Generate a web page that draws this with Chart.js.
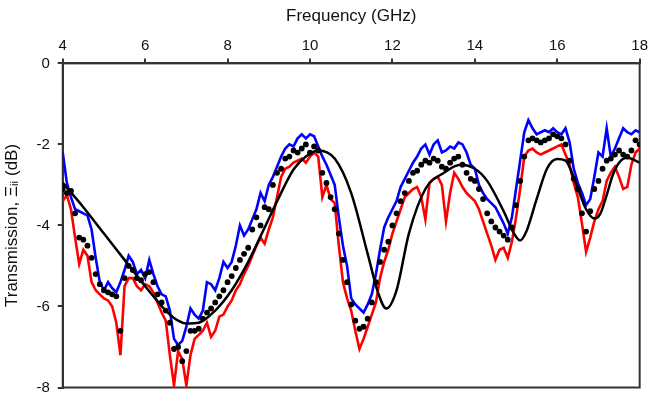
<!DOCTYPE html>
<html>
<head>
<meta charset="utf-8">
<script src="https://cdn.jsdelivr.net/npm/chart.js@4.4.1/dist/chart.umd.min.js"></script>
<style>
  html, body { margin: 0; padding: 0; background: #fff; }
  #wrap { width: 652px; height: 400px; }
</style>
</head>
<body>
<div id="wrap"><canvas id="chart"></canvas></div>
<script>
// measured traces, sampled every 0.1 GHz from 4 to 18 GHz
var fStart = 4, fStep = 0.1;

var blueT = [
  -2.2, -2.95, -3.3, -3.6, -3.65, -3.7, -3.75, -4.1, -4.8, -5.4,
  -5.6, -5.4, -5.55, -5.65, -5.4, -5.1, -4.75, -4.9, -5.2, -5.1,
  -5.3, -4.85, -5.2, -5.5, -5.7, -5.75, -6.1, -6.8, -6.95, -6.85,
  -6.5, -6.05, -6.2, -6.3, -6.1, -5.4, -5.45, -5.6, -5.3, -4.9,
  -5.05, -4.9, -4.5, -4.0, -4.25, -4.1, -3.85, -3.6, -3.2, -3.4,
  -3.0, -2.8, -2.55, -2.3, -2.1, -2.0, -2.05, -1.85, -1.75, -1.85,
  -1.75, -1.8, -2.05, -2.3, -2.5, -2.75, -3.0, -3.8, -4.5, -5.0,
  -5.8, -5.95, -6.05, -6.15, -5.95, -5.7, -5.2, -4.6, -4.05, -3.8,
  -3.6, -3.4, -3.05, -2.85, -2.65, -2.45, -2.3, -2.1, -2.0, -2.25,
  -2.0, -1.9, -2.2, -2.15, -2.05, -2.1, -1.95, -2.0, -2.2, -2.5,
  -2.6, -3.0, -3.2, -3.35, -3.45, -3.55, -3.75, -3.95, -4.2, -3.8,
  -3.1, -2.4, -1.7, -1.4, -1.6, -1.75, -1.7, -1.65, -1.7, -1.6,
  -1.7, -1.75, -1.6, -1.95, -2.6, -2.95, -3.2, -3.5, -3.35, -2.8,
  -2.2, -2.3, -1.6, -2.3, -2.1, -1.85, -1.6, -1.7, -1.75, -1.65,
  -1.7
];

var redT = [
  -3.4, -3.25, -3.6, -4.3, -4.95, -4.6, -4.75, -5.4, -5.6, -5.7,
  -5.8, -5.85, -6.0, -6.4, -7.2, -5.5, -5.3, -5.3, -5.5, -5.6,
  -5.45, -5.5, -5.65, -5.9, -6.15, -6.35, -7.2, -7.95, -7.1, -7.3,
  -7.95, -7.2, -6.8, -6.7, -6.6, -6.4, -6.75, -6.6, -6.25, -6.2,
  -6.0, -5.85, -5.6, -5.45, -5.2, -5.0, -4.75, -4.5, -4.3, -4.45,
  -4.1, -3.8, -3.3, -2.8, -2.6, -2.55, -2.45, -2.4, -2.35, -2.45,
  -2.3, -2.2, -2.3, -3.3, -3.0, -3.35, -3.45, -4.5, -5.4, -5.8,
  -6.1, -6.6, -7.05, -6.8, -6.5, -6.2, -5.9, -5.3, -4.9, -4.6,
  -4.2, -3.9, -3.6, -3.3, -3.2, -3.1, -3.05, -3.3, -3.85, -2.95,
  -2.85, -2.8, -3.0, -3.9, -3.2, -2.7, -2.85, -3.05, -3.2, -3.3,
  -3.4, -3.6, -3.9, -4.2, -4.5, -4.85, -4.6, -4.55, -4.8, -4.4,
  -3.8, -3.1, -2.3, -2.15, -2.1, -2.2, -2.25, -2.2, -2.15, -2.1,
  -2.05, -2.0, -2.25, -2.5, -2.95, -3.3, -3.95, -4.65, -4.3, -3.9,
  -3.6, -3.4, -2.9, -2.7, -2.55, -2.8, -3.1, -3.05, -2.5, -2.2,
  -2.1
];

var dotT = [
  -3.1, -3.2, -3.15, -3.7, -4.3, -4.35, -4.5, -4.8, -5.2, -5.45,
  -5.6, -5.65, -5.7, -5.75, -6.6, -5.3, -5.0, -5.1, -5.3, -5.35,
  -5.2, -5.15, -5.4, -5.7, -5.9, -6.1, -6.4, -7.05, -7.0, -7.35,
  -7.1, -6.6, -6.6, -6.55, -6.3, -6.15, -6.05, -5.9, -5.75, -5.6,
  -5.4, -5.25, -5.05, -4.85, -4.7, -4.55, -4.1, -3.8, -4.0, -3.55,
  -3.6, -3.0, -2.7, -2.6, -2.35, -2.3, -2.15, -2.2, -2.1, -2.0,
  -2.2, -2.05, -2.15, -2.7, -2.95, -3.3, -3.6, -4.2, -4.85, -5.4,
  -5.95, -6.35, -6.55, -6.5, -6.3, -5.9, -5.4, -4.9, -4.6, -4.4,
  -4.0, -3.7, -3.4, -3.2, -2.9, -2.7, -2.65, -2.5, -2.4, -2.45,
  -2.35, -2.4, -2.55, -2.6, -2.45, -2.35, -2.3, -2.5, -2.7, -2.85,
  -2.9, -3.1, -3.35, -3.7, -3.9, -4.05, -4.15, -4.25, -4.35, -4.05,
  -3.5, -2.9, -2.3, -1.9, -1.85, -1.9, -1.95, -1.9, -1.85, -1.75,
  -1.8, -1.85, -2.0, -2.4, -2.85, -3.1, -3.7, -4.15, -3.65, -3.1,
  -2.9, -2.6, -2.4, -2.35, -2.25, -2.15, -2.25, -2.3, -2.15, -1.9,
  -2.0
];

// model curve
var modelFreq = [4.0, 4.5, 5.0, 5.5, 6.0, 6.5, 6.8, 7.0, 7.3, 7.7, 8.1, 8.5, 8.9, 9.25, 9.6, 9.9,
  10.2, 10.6, 11.0, 11.4, 11.65, 11.85, 12.1, 12.4, 12.8, 13.25, 13.65, 14.0, 14.3, 14.7,
  14.95, 15.1, 15.25, 15.5, 15.75, 16.0, 16.2, 16.45, 16.7, 16.9, 17.05, 17.2, 17.35, 17.5,
  17.7, 18.0];
var modelT = [-2.95, -3.55, -4.2, -4.85, -5.5, -6.1, -6.35, -6.42, -6.4, -6.1, -5.6, -4.9, -4.05, -3.3, -2.62, -2.3,
  -2.15, -2.35, -3.2, -4.7, -5.65, -6.05, -5.6, -4.2, -3.1, -2.7, -2.5, -2.6, -2.9, -3.65,
  -4.2, -4.37, -4.15, -3.35, -2.6, -2.36, -2.4, -2.95, -3.6, -3.83, -3.7, -3.25, -2.75, -2.45,
  -2.33, -2.45];

var xTicks = [4, 6, 8, 10, 12, 14, 16, 18];
var yTicks = [0, -2, -4, -6, -8];

function toPoints(vals) {
    return vals.map(function (v, i) {
	return { x: +(fStart + i * fStep).toFixed(2), y: v };
    });
}

var modelPts = modelFreq.map(function (f, i) { return { x: f, y: modelT[i] }; });

var axisColor = '#333333';
var fontFam = '"Liberation Sans", Arial, sans-serif';

var boxPlugin = {
    id: 'box',
    beforeDatasetsDraw: function (chart) {
	var a = chart.chartArea, ctx = chart.ctx;
	ctx.save();
	ctx.strokeStyle = axisColor;
	ctx.lineWidth = 2;
	ctx.strokeRect(a.left, a.top, a.right - a.left, a.bottom - a.top);
	ctx.restore();
    }
};

var ctx = document.getElementById('chart').getContext('2d');
var chart = new Chart(ctx, {
    type: 'line',
    data: {
	datasets: [
	    {
		label: 'model',
		data: modelPts,
		borderColor: '#000000',
		borderWidth: 2.5,
		pointRadius: 0,
		cubicInterpolationMode: 'monotone',
		order: 1
	    },
	    {
		label: 'average',
		data: toPoints(dotT),
		showLine: false,
		pointRadius: 2.9,
		pointBackgroundColor: '#000000',
		pointBorderWidth: 0,
		order: 2
	    },
	    {
		label: 'red',
		data: toPoints(redT),
		borderColor: '#ff0000',
		borderWidth: 2.6,
		pointRadius: 0,
		tension: 0,
		order: 3
	    },
	    {
		label: 'blue',
		data: toPoints(blueT),
		borderColor: '#0000ff',
		borderWidth: 2.6,
		pointRadius: 0,
		tension: 0,
		order: 4
	    }
	]
    },
    options: {
	responsive: true,
	maintainAspectRatio: false,
	animation: false,
	layout: { padding: { top: 6, right: 0, bottom: 12, left: 2 } },
	plugins: {
	    legend: { display: false },
	    tooltip: { enabled: false }
	},
	scales: {
	    x: {
		type: 'linear',
		position: 'top',
		min: 4,
		max: 18,
		afterBuildTicks: function (axis) {
		    axis.ticks = xTicks.map(function (v) { return { value: v }; });
		},
		grid: { drawOnChartArea: false, tickLength: 5, color: axisColor, lineWidth: 2 },
		border: { color: axisColor, width: 2 },
		ticks: { color: '#111', font: { family: fontFam, size: 15 }, padding: 4, maxRotation: 0 },
		title: {
		    display: true,
		    text: 'Frequency (GHz)',
		    color: '#111',
		    font: { family: fontFam, size: 17 },
		    padding: { top: 0, bottom: 6 }
		}
	    },
	    y: {
		min: -8,
		max: 0,
		afterBuildTicks: function (axis) {
		    axis.ticks = yTicks.map(function (v) { return { value: v }; });
		},
		grid: { drawOnChartArea: false, tickLength: 5, color: axisColor, lineWidth: 2 },
		border: { color: axisColor, width: 2 },
		ticks: { color: '#111', font: { family: fontFam, size: 15, lineHeight: 0.6 }, padding: 8 },
		title: {
		    display: true,
		    text: 'Transmission, Ξᵢᵢ (dB)',
		    color: '#111',
		    font: { family: fontFam, size: 17 },
		    padding: { top: 0, bottom: 6 }
		}
	    }
	}
    },
    plugins: [boxPlugin]
});
</script>
</body>
</html>
